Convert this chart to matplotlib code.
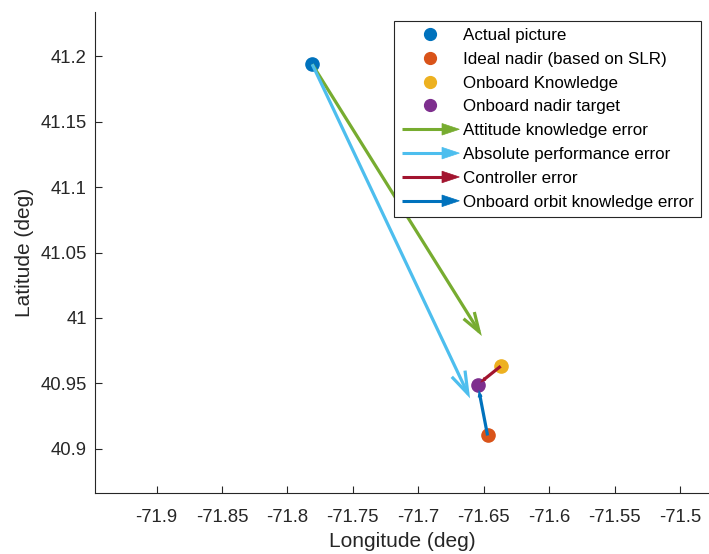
import numpy as np
import matplotlib
matplotlib.use("Agg")
import matplotlib.pyplot as plt
from matplotlib.lines import Line2D
from matplotlib.patches import Polygon, ArrowStyle
from matplotlib.legend_handler import HandlerBase

plt.rcParams["font.family"] = ["Liberation Sans", "DejaVu Sans"]

# Ground-track positions (deg)
point_labels = ["Actual picture", "Ideal nadir (based on SLR)",
                "Onboard Knowledge", "Onboard nadir target"]
point_lon = [-71.781, -71.647, -71.637, -71.6545]
point_lat = [41.194, 40.910, 40.963, 40.949]
point_colors = ["#0072BD", "#D95319", "#EDB120", "#7E2F8E"]

# Error vectors: from point index -> to point index
arrow_labels = ["Attitude knowledge error", "Absolute performance error",
                "Controller error", "Onboard orbit knowledge error"]
arrow_from = [0, 0, 2, 1]
arrow_to = [2, 1, 3, 3]
arrow_colors = ["#77AC30", "#4DBEEE", "#A2142F", "#0072BD"]
arrow_scale = 0.9  # quiver auto-scale factor

xticks = [-71.9, -71.85, -71.8, -71.75, -71.7, -71.65, -71.6, -71.55, -71.5]
yticks = [40.9, 40.95, 41.0, 41.05, 41.1, 41.15, 41.2]
xlim = (-71.947, -71.4778)
ylim = (40.866, 41.234)

DPI = 100
AX_COLOR = "#262626"

fig = plt.figure(figsize=(7.09, 5.54), dpi=DPI)
ax = fig.add_axes([95 / 709, 61 / 554, 614 / 709, 481 / 554])
ax.set_xlim(*xlim)
ax.set_ylim(*ylim)

for s in ("top", "right"):
    ax.spines[s].set_visible(False)
for s in ("left", "bottom"):
    ax.spines[s].set_color(AX_COLOR)
    ax.spines[s].set_linewidth(0.8)

ax.set_xticks(xticks)
ax.set_yticks(yticks)
ax.set_xticklabels([f"{v:g}" for v in xticks])
ax.set_yticklabels([f"{v:g}" for v in yticks])
ax.tick_params(direction="in", length=5, width=0.8, colors=AX_COLOR,
               labelsize=13.3)
ax.tick_params(axis="x", pad=11.5)
ax.tick_params(axis="y", pad=6)
ax.set_xlabel("Longitude (deg)", fontsize=15, color=AX_COLOR, labelpad=4)
ax.set_ylabel("Latitude (deg)", fontsize=15, color=AX_COLOR, labelpad=4.5)

# Points
for lon, lat, c in zip(point_lon, point_lat, point_colors):
    ax.plot([lon], [lat], "o", ms=9.5, color=c, mec=c, zorder=3)

# Error arrows (open V heads sized relative to arrow length)
for i0, i1, c in zip(arrow_from, arrow_to, arrow_colors):
    x0, y0 = point_lon[i0], point_lat[i0]
    x1 = x0 + arrow_scale * (point_lon[i1] - x0)
    y1 = y0 + arrow_scale * (point_lat[i1] - y0)
    p0 = ax.transData.transform((x0, y0))
    p1 = ax.transData.transform((x1, y1))
    length_pt = np.hypot(*(p1 - p0)) * 72 / DPI
    hl = 0.06 * length_pt
    hw = 0.33 * hl
    style = ArrowStyle("->", head_length=hl, head_width=hw)
    ax.annotate("", xy=(x1, y1), xytext=(x0, y0),
                arrowprops=dict(arrowstyle=style, mutation_scale=1,
                                color=c, lw=2.3, shrinkA=0, shrinkB=0,
                                capstyle="butt", joinstyle="miter"),
                zorder=4)


class ArrowKey:
    def __init__(self, color):
        self.color = color


class ArrowKeyHandler(HandlerBase):
    def create_artists(self, legend, orig_handle, xdescent, ydescent,
                       width, height, fontsize, trans):
        y = height / 2 - ydescent
        x0 = -xdescent
        x1 = x0 + width
        head_len = 0.3 * width
        half_h = 0.34 * fontsize
        line = Line2D([x0, x1 - head_len * 0.6], [y, y], color=orig_handle.color,
                      lw=2.2, solid_capstyle="butt", transform=trans)
        head = Polygon([[x1 - head_len, y + half_h], [x1, y],
                        [x1 - head_len, y - half_h]], closed=True,
                       fc=orig_handle.color, ec=orig_handle.color, lw=0.5,
                       transform=trans)
        return [line, head]


handles = [Line2D([], [], ls="none", marker="o", ms=8.5, color=c, mec=c)
           for c in point_colors]
handles += [ArrowKey(c) for c in arrow_colors]
labels = point_labels + arrow_labels

leg = ax.legend(handles, labels, handler_map={ArrowKey: ArrowKeyHandler()},
                loc="upper right", bbox_to_anchor=(701 / 709, 1 - 20.7 / 554),
                bbox_transform=fig.transFigure, borderaxespad=0,
                fontsize=12.25, handlelength=3.4, handletextpad=0.22,
                borderpad=0.42, labelspacing=0.52, fancybox=False,
                framealpha=1, edgecolor=AX_COLOR)
leg.get_frame().set_linewidth(0.8)
for t in leg.get_texts():
    t.set_color("black")

fig.savefig("out.png", dpi=DPI)
